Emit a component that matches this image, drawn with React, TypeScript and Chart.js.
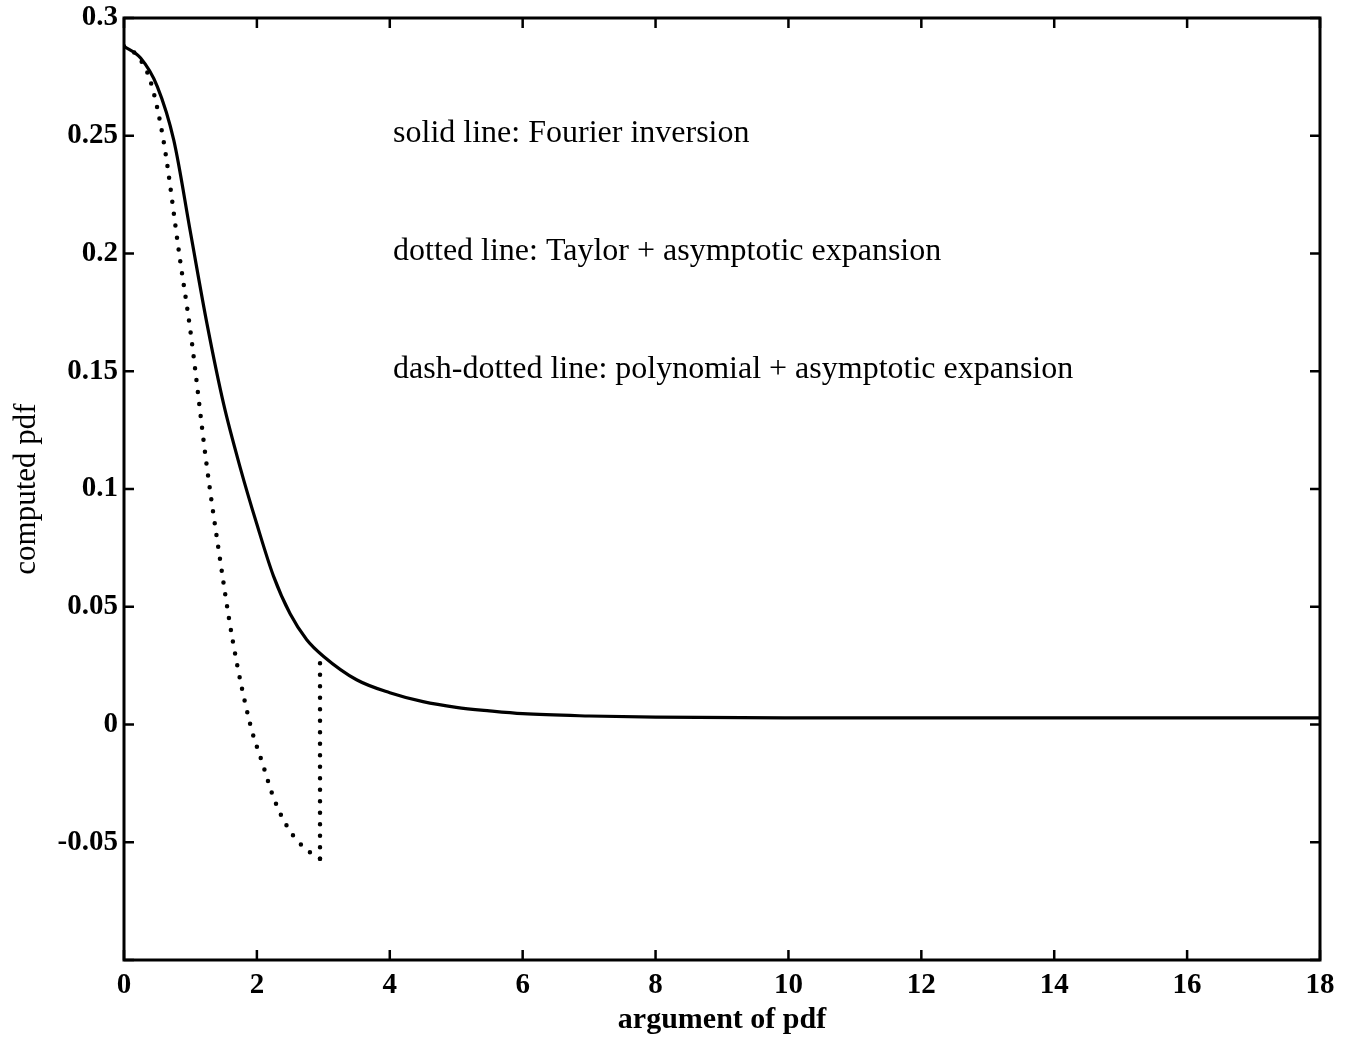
import React, { useEffect, useRef } from "react";
import { Chart, registerables } from "chart.js";

Chart.register(...registerables);

// Solid line: Fourier inversion
const solidX = [0, 0.25, 0.5, 0.75, 1.0, 1.25, 1.5, 1.75, 2.0, 2.25, 2.5, 2.75, 3.0, 3.5, 4.0, 4.5, 5.0, 5.5, 6.0, 7.0, 8.0, 10, 12, 14, 16, 18];
const solidY = [0.288, 0.283, 0.271, 0.248, 0.209, 0.170, 0.136, 0.109, 0.085, 0.063, 0.047, 0.036, 0.029, 0.019, 0.0135, 0.0097, 0.0073, 0.0058, 0.0046, 0.0036, 0.0031, 0.0028, 0.0028, 0.0028, 0.0028, 0.0028];

// Dotted line: Taylor + asymptotic expansion
const dottedX = [0, 0.2, 0.4, 0.6, 0.84, 1.0, 1.24, 1.42, 1.64, 1.9, 2.09, 2.25, 2.47, 2.7, 2.95];
const dottedY = [0.288, 0.284, 0.273, 0.247, 0.198, 0.167, 0.111, 0.075, 0.035, 0.0, -0.017, -0.031, -0.044, -0.052, -0.057];
// Dotted line: jump back to the solid line
const dottedJumpX = [2.95, 2.95];
const dottedJumpY = [-0.057, 0.027];

// Axis ticks
const xTickValues = [0, 2, 4, 6, 8, 10, 12, 14, 16, 18];
const yTickValues = [-0.1, -0.05, 0, 0.05, 0.1, 0.15, 0.2, 0.25, 0.3];
const yTickLabels = ["", "-0.05", "0", "0.05", "0.1", "0.15", "0.2", "0.25", "0.3"];

// Annotation texts
const noteTexts = [
  "solid line: Fourier inversion",
  "dotted line: Taylor + asymptotic expansion",
  "dash-dotted line: polynomial + asymptotic expansion",
];
const noteX = [4.05, 4.05, 4.05];
const noteY = [0.25, 0.2, 0.15];

const SERIF = "'Liberation Serif', 'DejaVu Serif', serif";

const framePlugin = {
  id: "framePlugin",
  afterDraw(chart: any) {
    const { ctx, chartArea } = chart;
    const xs = chart.scales.x;
    const ys = chart.scales.y;
    const { left, right, top, bottom } = chartArea;
    ctx.save();
    ctx.strokeStyle = "#000";
    ctx.lineWidth = 3;
    ctx.strokeRect(left, top, right - left, bottom - top);
    ctx.lineWidth = 2.5;
    const tl = 10;
    ctx.beginPath();
    xTickValues.forEach((v) => {
      const px = xs.getPixelForValue(v);
      ctx.moveTo(px, bottom);
      ctx.lineTo(px, bottom - tl);
      ctx.moveTo(px, top);
      ctx.lineTo(px, top + tl);
    });
    yTickValues.forEach((v) => {
      const py = ys.getPixelForValue(v);
      ctx.moveTo(left, py);
      ctx.lineTo(left + tl, py);
      ctx.moveTo(right, py);
      ctx.lineTo(right - tl, py);
    });
    ctx.stroke();

    // annotation texts
    ctx.fillStyle = "#000";
    ctx.font = `32px ${SERIF}`;
    ctx.textAlign = "left";
    ctx.textBaseline = "middle";
    noteTexts.forEach((t, i) => {
      ctx.fillText(t, xs.getPixelForValue(noteX[i]), ys.getPixelForValue(noteY[i]) - 2);
    });
    ctx.restore();
  },
};

export default function App() {
  const ref = useRef<HTMLCanvasElement | null>(null);
  useEffect(() => {
    if (!ref.current) return;
    const chart = new Chart(ref.current, {
      type: "line",
      data: {
        datasets: [
          {
            label: "solid",
            data: solidX.map((x, i) => ({ x, y: solidY[i] })),
            borderColor: "#000",
            borderWidth: 3.2,
            pointRadius: 0,
            cubicInterpolationMode: "monotone",
            fill: false,
          },
          {
            label: "dotted",
            data: dottedX.map((x, i) => ({ x, y: dottedY[i] })),
            borderColor: "#000",
            borderWidth: 4.5,
            borderDash: [0, 12],
            borderCapStyle: "round",
            pointRadius: 0,
            cubicInterpolationMode: "monotone",
            fill: false,
          },
          {
            label: "dotted jump",
            data: dottedJumpX.map((x, i) => ({ x, y: dottedJumpY[i] })),
            borderColor: "#000",
            borderWidth: 4.5,
            borderDash: [0, 11.5],
            borderCapStyle: "round",
            pointRadius: 0,
            tension: 0,
            fill: false,
          },
        ],
      },
      options: {
        animation: false,
        responsive: false,
        maintainAspectRatio: false,
        layout: { padding: { top: 18, right: 25, left: 0, bottom: 0 } },
        plugins: { legend: { display: false }, tooltip: { enabled: false } },
        scales: {
          x: {
            type: "linear",
            min: 0,
            max: 18,
            afterBuildTicks: (s: any) => {
              s.ticks = xTickValues.map((v) => ({ value: v }));
            },
            afterFit: (s: any) => {
              s.height = 80;
              s.paddingLeft = 0;
              s.paddingRight = 0;
            },
            grid: { display: false, drawTicks: false },
            border: { display: false },
            ticks: {
              color: "#000",
              padding: 8,
              maxRotation: 0,
              autoSkip: false,
              font: { family: SERIF, size: 29, weight: "bold" },
              callback: (v: any) => String(v),
            },
            title: {
              display: true,
              text: "argument of pdf",
              color: "#000",
              font: { family: SERIF, size: 30, weight: "bold" },
              padding: { top: 0, bottom: 2 },
            },
          },
          y: {
            type: "linear",
            min: -0.1,
            max: 0.3,
            afterBuildTicks: (s: any) => {
              s.ticks = yTickValues.map((v) => ({ value: v }));
            },
            afterFit: (s: any) => {
              s.width = 124;
              s.paddingTop = 0;
              s.paddingBottom = 0;
            },
            grid: { display: false, drawTicks: false },
            border: { display: false },
            ticks: {
              color: "#000",
              padding: 6,
              autoSkip: false,
              font: { family: SERIF, size: 29, weight: "bold" },
              callback: (v: any, i: number) => yTickLabels[i],
            },
            title: {
              display: true,
              text: "computed pdf",
              color: "#000",
              font: { family: SERIF, size: 31, weight: "normal" },
              padding: { top: 8, bottom: 8 },
            },
          },
        },
      },
      plugins: [framePlugin],
    } as any);
    return () => chart.destroy();
  }, []);
  return (
    <div style={{ position: "absolute", left: 0, top: 0, width: 1345, height: 1040, background: "#fff" }}>
      <canvas ref={ref} width={1345} height={1040} style={{ display: "block" }} />
    </div>
  );
}
